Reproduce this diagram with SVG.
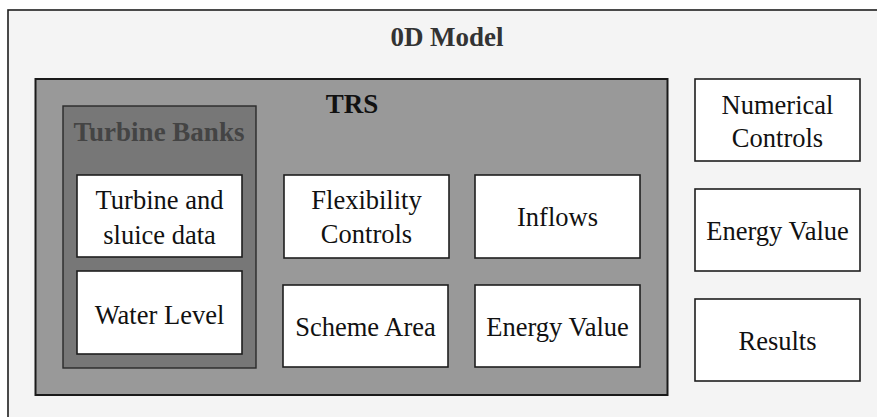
<svg xmlns="http://www.w3.org/2000/svg" width="877" height="417" viewBox="0 0 877 417">
  <style>
    text { font-size: 26.5px; fill: #111; text-anchor: middle; }
    .title { font-weight: bold; font-size: 27px; fill: #333; }
    .bank-title { font-weight: bold; font-size: 27px; fill: #444; }
    .box { fill: #ffffff; stroke: #1e1e1e; stroke-width: 1.6; }
  </style>

  <!-- 0D model frame (runs off the right and bottom edges) -->
  <g id="model">
    <rect x="8" y="10" width="880" height="420" fill="#f4f4f4" stroke="#1e1e1e" stroke-width="1.6"/>
    <text class="title" x="447" y="46" font-family="Liberation Serif">0D Model</text>
  </g>

  <!-- TRS container -->
  <g id="trs">
    <rect x="35.5" y="79" width="632" height="316" fill="#999999" stroke="#1a1a1a" stroke-width="2"/>
    <text class="title" x="352" y="113" style="fill:#111" font-family="Liberation Serif">TRS</text>
  </g>

  <!-- Turbine banks sub-container -->
  <g id="turbine-banks">
    <rect x="63" y="106" width="193" height="262" fill="#777777" stroke="#2a2a2a" stroke-width="1.4"/>
    <text class="bank-title" x="159" y="141" font-family="Liberation Serif">Turbine Banks</text>
  </g>

  <g id="turbine-sluice">
    <rect class="box" x="77" y="175" width="165" height="82"/>
    <text x="159.5" y="209" font-family="Liberation Serif">Turbine and</text>
    <text x="159.5" y="244" font-family="Liberation Serif">sluice data</text>
  </g>

  <g id="water-level">
    <rect class="box" x="77" y="271" width="165" height="83"/>
    <text x="159.5" y="324" font-family="Liberation Serif">Water Level</text>
  </g>

  <g id="flexibility-controls">
    <rect class="box" x="284" y="175" width="165" height="83"/>
    <text x="366.5" y="209" font-family="Liberation Serif">Flexibility</text>
    <text x="366.5" y="243" font-family="Liberation Serif">Controls</text>
  </g>

  <g id="inflows">
    <rect class="box" x="475" y="175" width="165" height="83"/>
    <text x="557.5" y="226" font-family="Liberation Serif">Inflows</text>
  </g>

  <g id="scheme-area">
    <rect class="box" x="283" y="285" width="165" height="82"/>
    <text x="365.5" y="336" font-family="Liberation Serif">Scheme Area</text>
  </g>

  <g id="trs-energy-value">
    <rect class="box" x="475" y="285" width="165" height="82"/>
    <text x="557.5" y="336" font-family="Liberation Serif">Energy Value</text>
  </g>

  <!-- Model-level boxes -->
  <g id="numerical-controls">
    <rect class="box" x="695" y="79" width="165" height="82"/>
    <text x="777.5" y="114" font-family="Liberation Serif">Numerical</text>
    <text x="777.5" y="147" font-family="Liberation Serif">Controls</text>
  </g>

  <g id="energy-value">
    <rect class="box" x="695" y="189" width="165" height="82"/>
    <text x="777.5" y="240" font-family="Liberation Serif">Energy Value</text>
  </g>

  <g id="results">
    <rect class="box" x="695" y="299" width="165" height="82"/>
    <text x="777.5" y="350" font-family="Liberation Serif">Results</text>
  </g>

  <!-- no connectors in this diagram -->
  <g id="connectors"/>
</svg>
